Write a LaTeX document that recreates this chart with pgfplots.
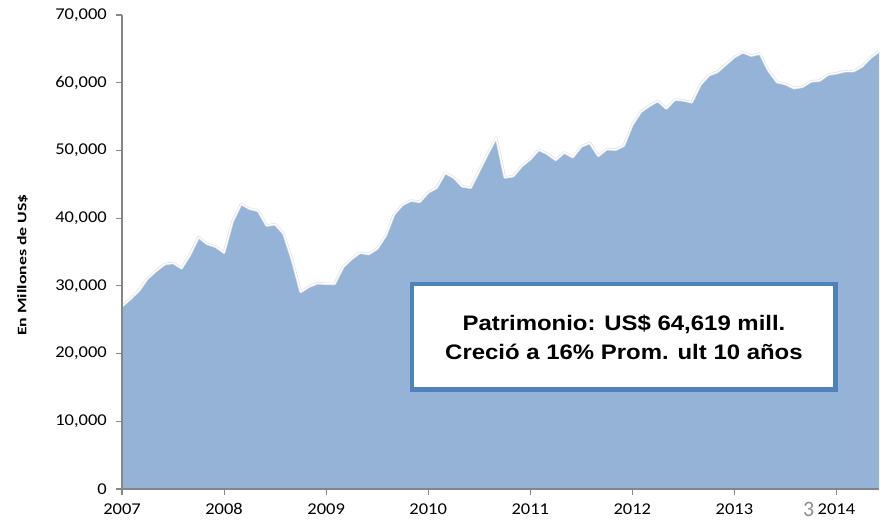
\documentclass[border=0pt]{standalone}
\usepackage{pgfplots}
\pgfplotsset{compat=1.18}
\usepackage{graphicx}
\usepackage{fontspec}
\setmainfont{Carlito}[FakeStretch=1.12]
\newfontfamily\boxfont{Liberation Sans}[FakeStretch=1.14]
\newfontfamily\labfont{Carlito}
\definecolor{areablue}{HTML}{95B3D7}
\definecolor{boxblue}{HTML}{4F81BD}
\definecolor{axisgray}{HTML}{868686}
\pgfplotstableread{
m v
0 27000
1 28100
2 29300
3 31100
4 32200
5 33200
6 33400
7 32600
8 34600
9 37200
10 36200
11 35800
12 34900
13 39500
14 42100
15 41400
16 41100
17 38900
18 39100
19 37700
20 33800
21 29100
22 29900
23 30400
24 30300
25 30300
26 32800
27 34000
28 34900
29 34700
30 35500
31 37400
32 40600
33 42000
34 42600
35 42400
36 43800
37 44500
38 46700
39 46000
40 44700
41 44500
42 47000
43 49500
44 51900
45 46000
46 46200
47 47700
48 48700
49 50100
50 49500
51 48600
52 49700
53 49000
54 50600
55 51100
56 49200
57 50200
58 50100
59 50700
60 53800
61 55700
62 56600
63 57300
64 56200
65 57500
66 57400
67 57100
68 59700
69 61100
70 61600
71 62700
72 63800
73 64500
74 64000
75 64300
76 61800
77 60100
78 59800
79 59200
80 59400
81 60200
82 60300
83 61200
84 61400
85 61700
86 61700
87 62400
88 63700
89 64619
}\patrimonio
\begin{document}
\begin{tikzpicture}
\useasboundingbox (-122pt,-32pt) rectangle (764pt,489pt);
\begin{axis}[
  scale only axis,
  width=757pt, height=474pt,
  xmin=0, xmax=89, ymin=0, ymax=70000,
  axis x line=bottom, axis y line=left,
  axis line style={-, draw=axisgray, line width=1.3pt},
  tick style={draw=axisgray, line width=1.1pt},
  tick align=outside, major tick length=6pt,
  xtick={0,12,24,36,48,60,72,84},
  xticklabels={2007,2008,2009,2010,2011,2012,2013,2014},
  ytick={0,10000,20000,30000,40000,50000,60000,70000},
  scaled y ticks=false,
  /pgf/number format/.cd, 1000 sep={,}, assume math mode=true,
  /pgfplots/.cd,
  tick label style={font=\fontsize{16.5}{18}\selectfont, text=black},
  yticklabel style={inner sep=0pt, xshift=-9pt},
  xticklabel style={anchor=north, inner sep=0pt, text height=11pt, text depth=0pt, yshift=-8pt},
  ylabel={\labfont\bfseries\fontsize{13}{15}\selectfont\scalebox{1.37}[1]{En Millones de US\$}},
  ylabel style={at={(axis description cs:-0.1314,0.4726)}, anchor=center},
  axis on top,
  clip=false,
]
\addplot[fill=areablue, draw=none] table[x=m, y=v] {\patrimonio} \closedcycle;
\addplot[draw=black!12, line width=2.6pt, line join=round] table[x=m, y=v] {\patrimonio};
\addplot[draw=white, line width=1.2pt, line join=round] table[x=m, y=v] {\patrimonio};
\node[draw=boxblue, line width=4.5pt, fill=white, minimum width=423.5pt, minimum height=105.5pt,
      inner sep=0pt, align=center, font=\boxfont\bfseries\fontsize{21}{29}\selectfont]
  at (rel axis cs:0.6631,0.3207) {Patrimonio: US\$ 64,619 mill.\\Creció a 16\% Prom. ult 10 años};
\end{axis}
\node[anchor=north west, inner sep=0pt, text=black!45, font=\labfont\fontsize{22}{22}\selectfont] at (681pt,-13pt) {3};
\end{tikzpicture}
\end{document}
